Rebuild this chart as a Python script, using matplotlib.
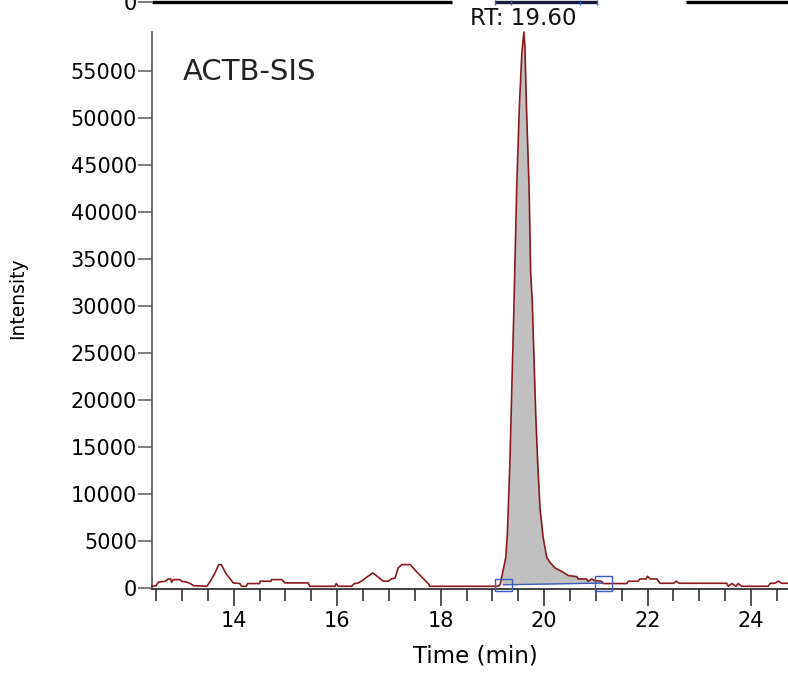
import numpy as np
import matplotlib.pyplot as plt
from matplotlib.patches import Rectangle

plt.rcParams['font.family'] = ['DejaVu Sans']

# chromatogram trace (time in min, intensity)
time_min = [12.42, 12.50, 12.54, 12.68, 12.73, 12.78, 12.80, 12.83, 12.96, 12.99,
            13.10, 13.16, 13.22, 13.48, 13.55, 13.65, 13.71, 13.76, 13.85, 13.99,
            14.12, 14.15, 14.24, 14.27, 14.50, 14.51, 14.72, 14.73, 14.93, 14.99,
            15.44, 15.47, 15.96, 15.98, 16.02, 16.28, 16.33, 16.41, 16.50, 16.56,
            16.69, 16.74, 16.89, 16.99, 17.05, 17.12, 17.18, 17.25, 17.41, 17.55,
            17.76, 17.79, 19.10, 19.15, 19.18, 19.22, 19.26, 19.29, 19.34, 19.42,
            19.47, 19.52, 19.57, 19.61, 19.63, 19.66, 19.71, 19.74, 19.77, 19.84,
            19.88, 19.92, 19.98, 20.05, 20.11, 20.21, 20.31, 20.37, 20.47, 20.63,
            20.66, 20.82, 20.85, 20.92, 20.98, 21.11, 21.14, 21.56, 21.60, 21.63,
            21.82, 21.85, 21.97, 22.00, 22.05, 22.18, 22.24, 22.50, 22.56, 22.61,
            23.53, 23.56, 23.63, 23.71, 23.75, 23.82, 24.33, 24.37, 24.46, 24.53,
            24.59, 24.72]
intensity = [140, 200, 570, 680, 920, 920, 570, 850, 850, 680,
             570, 430, 210, 140, 700, 1700, 2450, 2450, 1500, 500,
             430, 140, 140, 430, 430, 680, 680, 850, 850, 500,
             500, 140, 140, 430, 140, 140, 430, 500, 800, 1070,
             1560, 1350, 680, 680, 920, 1030, 2100, 2450, 2450, 1600,
             430, 140, 140, 300, 1100, 2160, 3230, 5720, 13540, 30600,
             42500, 51000, 57000, 59200, 57500, 51000, 42500, 33600, 30600, 18150,
             12820, 8500, 5400, 3230, 2700, 2100, 1810, 1630, 1280, 1170,
             920, 920, 670, 920, 750, 670, 430, 430, 430, 680,
             680, 920, 920, 1210, 920, 920, 460, 460, 680, 460,
             460, 140, 430, 140, 430, 140, 140, 460, 460, 680,
             460, 460]

# integrated peak
rt = 19.60
peak_start, peak_end = 19.22, 21.14
base_start, base_end = 300, 480

label = 'ACTB-SIS'
y_ticks = list(range(0, 55001, 5000))
x_ticks = [14, 16, 18, 20, 22, 24]

t = np.array(time_min)
y = np.array(intensity)

fig = plt.figure(figsize=(7.88, 6.74), dpi=100)
ax = fig.add_axes([152/788, 85/674, 636/788, 557/674])

ax.plot(t, y, color='#8b1a1a', lw=1.2, zorder=3, clip_on=False)

mask = (t >= peak_start - 0.05) & (t <= peak_end)
base = np.interp(t, [peak_start, peak_end], [base_start, base_end])
ax.fill_between(t[mask], y[mask], base[mask], color='#c0c0c0', lw=0, zorder=2)
ax.plot([peak_start, peak_end], [base_start, base_end], color='#3a5bbf', lw=1.0, zorder=4)

for pt, pb, top in [(peak_start, base_start, 920), (peak_end, base_end, 1280)]:
    ax.add_patch(Rectangle((pt - 0.165, -320), 0.33, top + 320, fill=False,
                           edgecolor='#3a5bbf', lw=1.0, zorder=5, clip_on=False))

ax.set_xlim(12.42, 24.715)
ax.set_ylim(-150, 59200)

ax.set_yticks(y_ticks)
ax.set_yticklabels([str(v) for v in y_ticks])
ax.set_xticks(x_ticks)
ax.set_xticks(np.arange(12.5, 24.75, 0.5), minor=True)

for s in ['top', 'right']:
    ax.spines[s].set_visible(False)
ax.spines['left'].set_color('#5a5a5a')
ax.spines['left'].set_linewidth(1.3)
ax.spines['bottom'].set_color('#222222')
ax.spines['bottom'].set_linewidth(1.2)

ax.tick_params(axis='y', direction='out', length=10.3, width=1.1, color='#5a5a5a',
               pad=0.5, labelsize=15)
ax.tick_params(axis='x', which='major', direction='out', length=12.2, width=1.1,
               color='#222222', pad=3.3, labelsize=15)
ax.tick_params(axis='x', which='minor', direction='out', length=8.6, width=1.1,
               color='#222222')

ax.set_xlabel('Time (min)', fontsize=16.5)
ax.xaxis.set_label_coords(0.509, -0.1)
ax.set_ylabel('Intensity', fontsize=13.5)
ax.yaxis.set_label_coords(-0.197, 0.522)

ax.text(0.0487, 0.928, label, transform=ax.transAxes, fontsize=21,
        ha='left', va='center', color='#222222')
ax.text(rt, 1.025, f'RT: {rt:.2f}', transform=ax.get_xaxis_transform(),
        fontsize=16.5, ha='center', va='center', color='#111111')

# remnant of the panel above (cut off at the top edge)
ax_top = fig.add_axes([152/788, 1 - 2/674, 636/788, 0.05])
ax_top.set_xlim(ax.get_xlim())
ax_top.set_ylim(0, 10)
for s in ax_top.spines.values():
    s.set_visible(False)
ax_top.set_yticks([0])
ax_top.set_yticklabels(['0'])
ax_top.tick_params(axis='y', direction='out', length=10.3, width=1.1, color='#5a5a5a',
                   pad=0.5, labelsize=15)
ax_top.tick_params(axis='x', bottom=False, labelbottom=False)
for x0, x1, c in [(12.42, 18.22, 'black'), (19.05, 21.03, '#1a1a3a'), (22.75, 24.715, 'black')]:
    ax_top.hlines(0.1, x0, x1, color=c, lw=2.4, clip_on=False)
ax_top.vlines([19.05, 19.36, 20.69, 21.02], -0.9, 0.6, color='#3a5bbf', lw=1.0, clip_on=False)

fig.savefig('out.png', dpi=100)
